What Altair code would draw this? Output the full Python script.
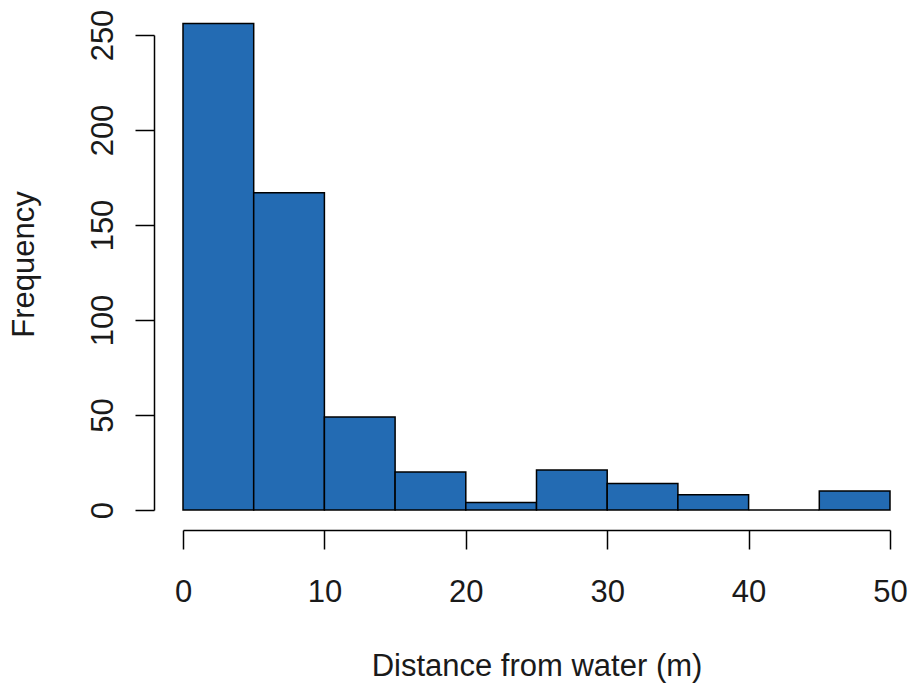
import altair as alt
import pandas as pd

bin_start = [0, 5, 10, 15, 20, 25, 30, 35, 40, 45]
bin_end = [5, 10, 15, 20, 25, 30, 35, 40, 45, 50]
counts = [256, 167, 49, 20, 4, 21, 14, 8, 0, 10]
x_ticks = [0, 10, 20, 30, 40, 50]
y_ticks = [0, 50, 100, 150, 200, 250]

df = pd.DataFrame({"start": bin_start, "end": bin_end, "count": counts})

FONT = "Liberation Sans"
FS = 31

bars = alt.Chart(df).mark_rect(
    fill="#236BB3", stroke="#000000", strokeWidth=1.5
).encode(
    x=alt.X("start:Q", scale=alt.Scale(domain=[0, 50], nice=False, zero=False),
            axis=alt.Axis(values=x_ticks, title="Distance from water (m)",
                          offset=20, tickSize=19, labelPadding=28,
                          grid=False, domainColor="#000000", tickColor="#000000",
                          domainWidth=1.5, tickWidth=1.5,
                          labelFont=FONT, labelFontSize=FS, labelColor="#1a1a1a",
                          titleFont=FONT, titleFontSize=FS, titleColor="#1a1a1a",
                          titleFontWeight="normal", titleBaseline="alphabetic",
                          titleY=145, titleX=353.5,
                          labelFlush=False, labelOverlap=False)),
    x2="end:Q",
    y=alt.Y("count:Q", scale=alt.Scale(domain=[0, 250], nice=False),
            axis=alt.Axis(values=y_ticks, title="Frequency",
                          offset=29, tickSize=19, labelPadding=16,
                          labelAngle=270, labelAlign="center", labelBaseline="bottom",
                          grid=False, domainColor="#000000", tickColor="#000000",
                          domainWidth=1.5, tickWidth=1.5,
                          labelFont=FONT, labelFontSize=FS, labelColor="#1a1a1a",
                          titleFont=FONT, titleFontSize=FS, titleColor="#1a1a1a",
                          titleFontWeight="normal", titleAngle=270,
                          titleBaseline="alphabetic", titleAlign="center",
                          titleX=-121, titleY=229,
                          labelFlush=False, labelOverlap=False)),
    y2=alt.datum(0),
)

chart = bars.properties(
    width=707, height=475,
    padding={"left": 183, "top": 35, "right": 19, "bottom": 178},
    autosize=alt.AutoSizeParams(type="none"),
    background="#ffffff",
).configure_view(stroke=None)

chart.save("out.html", embed_options={"renderer": "svg", "actions": False})
